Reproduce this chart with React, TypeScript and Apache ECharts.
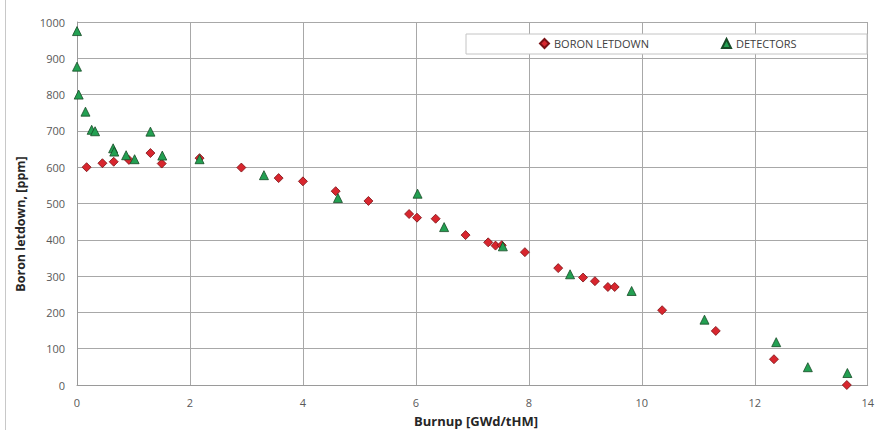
import React, { useEffect, useRef } from "react";
import * as echarts from "echarts";

const boronX = [0.17, 0.45, 0.65, 0.92, 1.3, 1.5, 2.17, 2.91, 3.57, 4.0, 4.58, 5.16, 5.88, 6.02, 6.35, 6.88, 7.28, 7.41, 7.52, 7.93, 8.52, 8.96, 9.17, 9.4, 9.52, 10.36, 11.31, 12.34, 13.63];
const boronY = [600, 611, 615, 620, 639, 610, 625, 599, 570, 561, 534, 507, 471, 461, 458, 413, 393, 384, 385, 366, 322, 296, 286, 270, 270, 206, 149, 71, 0];

const detX = [0.0, 0.0, 0.03, 0.15, 0.26, 0.32, 0.64, 0.66, 0.87, 1.02, 1.3, 1.51, 2.17, 3.31, 4.62, 6.03, 6.5, 7.54, 8.73, 9.82, 11.11, 12.38, 12.94, 13.64];
const detY = [975, 877, 800, 753, 703, 699, 652, 643, 633, 622, 698, 632, 622, 578, 515, 527, 435, 382, 305, 259, 180, 118, 49, 33];

const xTicks = { min: 0, max: 14, interval: 2 };
const yTicks = { min: 0, max: 1000, interval: 100 };

const FONT = "'Open Sans', 'Noto Sans', sans-serif";

export default function App() {
  const ref = useRef<HTMLDivElement>(null);
  useEffect(() => {
    if (!ref.current) return;
    const chart = echarts.init(ref.current, undefined, { renderer: "svg" });
    const boron = boronX.map((x, i) => [x, boronY[i]]);
    const det = detX.map((x, i) => [x, detY[i]]);
    chart.setOption({
      animation: false,
      backgroundColor: "#ffffff",
      textStyle: { fontFamily: FONT },
      grid: { left: 77, right: 4, top: 22, bottom: 45, containLabel: false },
      xAxis: {
        type: "value",
        min: xTicks.min,
        max: xTicks.max,
        interval: xTicks.interval,
        axisLine: { show: true, lineStyle: { color: "#9a9a9a", width: 1 } },
        axisTick: { show: false },
        axisLabel: { color: "#595959", fontSize: 11, margin: 12, fontFamily: FONT, formatter: (v: number) => String(v) },
        splitLine: { show: true, lineStyle: { color: "#a8a8a8", width: 1 } },
      },
      yAxis: {
        type: "value",
        min: yTicks.min,
        max: yTicks.max,
        interval: yTicks.interval,
        axisLine: { show: true, lineStyle: { color: "#9a9a9a", width: 1 } },
        axisTick: { show: false },
        axisLabel: { color: "#595959", fontSize: 11, margin: 12, fontFamily: FONT, formatter: (v: number) => String(v) },
        splitLine: { show: true, lineStyle: { color: "#a8a8a8", width: 1 } },
      },
      legend: [
        {
          data: [{ name: "BORON LETDOWN", icon: "diamond" }],
          left: 539,
          top: 38,
          padding: 0,
          itemWidth: 9,
          itemHeight: 9,
          itemGap: 4,
          z: 10,
          textStyle: { color: "#404040", fontSize: 11, fontFamily: FONT },
        },
        {
          data: [{ name: "DETECTORS", icon: "triangle" }],
          left: 721,
          top: 38,
          padding: 0,
          itemWidth: 9,
          itemHeight: 9,
          itemGap: 4,
          z: 10,
          textStyle: { color: "#404040", fontSize: 11, fontFamily: FONT },
        },
      ],
      graphic: [
        {
          type: "line",
          z: 1,
          shape: { x1: 5.5, y1: 0, x2: 5.5, y2: 430 },
          style: { stroke: "#c8c8c8", lineWidth: 1 },
        },
        {
          type: "rect",
          z: 3,
          shape: { x: 466, y: 34, width: 401, height: 20 },
          style: { fill: "#ffffff", stroke: "#c4c4c4", lineWidth: 1 },
        },
        {
          type: "text",
          z: 5,
          x: 20,
          y: 224,
          rotation: Math.PI / 2,
          style: {
            text: "Boron letdown, [ppm]",
            fontSize: 12.5,
            fontWeight: "bold",
            fontFamily: FONT,
            fill: "#262626",
            align: "center",
            verticalAlign: "middle",
          },
        },
        {
          type: "text",
          z: 5,
          x: 476,
          y: 421,
          style: {
            text: "Burnup [GWd/tHM]",
            fontSize: 13,
            fontWeight: "bold",
            fontFamily: FONT,
            fill: "#262626",
            align: "center",
            verticalAlign: "middle",
          },
        },
      ],
      series: [
        {
          name: "BORON LETDOWN",
          type: "scatter",
          symbol: "diamond",
          symbolSize: 9,
          data: boron,
          itemStyle: { color: "#d8262e", borderColor: "#7a1014", borderWidth: 0.8, opacity: 1 },
          z: 2,
        },
        {
          name: "DETECTORS",
          type: "scatter",
          symbol: "triangle",
          symbolSize: 9,
          data: det,
          itemStyle: { color: "#23a052", borderColor: "#174a26", borderWidth: 0.8, opacity: 1 },
          z: 3,
        },
      ],
    });
    return () => chart.dispose();
  }, []);
  return (
    <div
      ref={ref}
      style={{ position: "fixed", left: 0, top: 0, width: 877, height: 430 }}
    />
  );
}
